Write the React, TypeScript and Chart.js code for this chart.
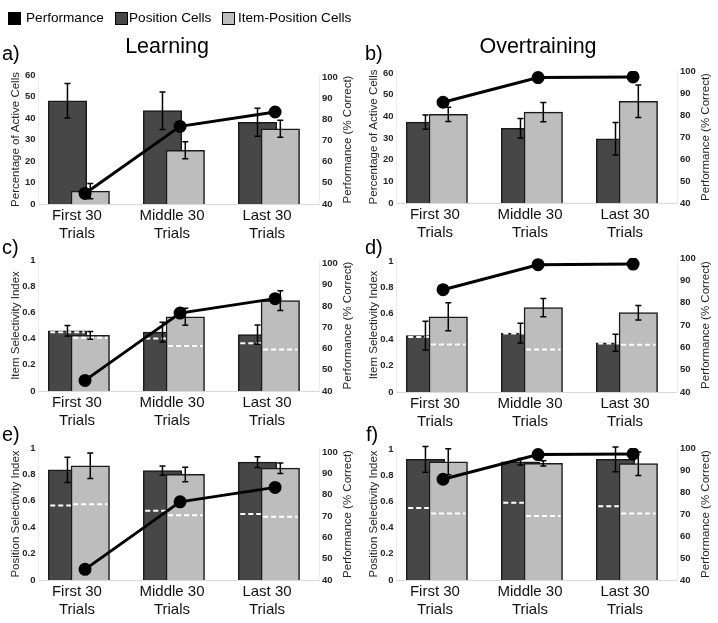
import React, { useEffect, useRef } from "react";
import { Chart, registerables } from "chart.js";

Chart.register(...registerables);

const FONT = '"Liberation Sans", Arial, Helvetica, sans-serif';
Chart.defaults.font.family = FONT;

// ---------- DATA ----------
const categories = [
  ["First 30", "Trials"],
  ["Middle 30", "Trials"],
  ["Last 30", "Trials"],
];
const seriesNames = ["Performance", "Position Cells", "Item-Position Cells"];

const learningPerformance = [45, 76.7, 83.5];
const overtrainingPerformance = [85.8, 97, 97.3];

// a) Learning – percentage of active cells
const learnActivePos = [48, 43.4, 38];
const learnActivePosErr = [8, 8.7, 6.5];
const learnActiveItem = [6, 25, 35];
const learnActiveItemErr = [3.5, 4, 4];

// b) Overtraining – percentage of active cells
const overActivePos = [37.4, 34.5, 29.7];
const overActivePosErr = [3.3, 4.5, 7.5];
const overActiveItem = [41, 42, 47];
const overActiveItemErr = [3.3, 4.5, 7.5];

// c) Learning – item selectivity index
const learnItemSelPos = [0.46, 0.45, 0.43];
const learnItemSelPosErr = [0.04, 0.075, 0.073];
const learnItemSelPosChance = [0.449, 0.4, 0.365];
const learnItemSelItem = [0.425, 0.566, 0.69];
const learnItemSelItemErr = [0.03, 0.065, 0.075];
const learnItemSelItemChance = [0.406, 0.343, 0.317];

// d) Overtraining – item selectivity index
const overItemSelPos = [0.43, 0.449, 0.375];
const overItemSelPosErr = [0.11, 0.075, 0.065];
const overItemSelPosChance = [0.42, 0.446, 0.37];
const overItemSelItem = [0.574, 0.643, 0.605];
const overItemSelItemErr = [0.107, 0.07, 0.055];
const overItemSelItemChance = [0.362, 0.324, 0.36];

// e) Learning – position selectivity index
const learnPosSelPos = [0.834, 0.829, 0.893];
const learnPosSelPosErr = [0.095, 0.035, 0.04];
const learnPosSelPosChance = [0.564, 0.525, 0.5];
const learnPosSelItem = [0.865, 0.8, 0.847];
const learnPosSelItemErr = [0.097, 0.055, 0.04];
const learnPosSelItemChance = [0.574, 0.49, 0.48];

// f) Overtraining – position selectivity index
const overPosSelPos = [0.923, 0.905, 0.923];
const overPosSelPosErr = [0.098, 0.025, 0.095];
const overPosSelPosChance = [0.551, 0.592, 0.564];
const overPosSelItem = [0.905, 0.893, 0.89];
const overPosSelItemErr = [0.1, 0.02, 0.09];
const overPosSelItemChance = [0.508, 0.49, 0.508];

// ---------- STYLE / LAYOUT ----------
const DARK = "#474747";
const LIGHT = "#bdbdbd";
const EDGE = "#1a1a1a";
const TEXT = "#262626";
const CANVAS_W = 358;
const TOP_PAD = 14;
const X_AXIS_H = 38;
const LEFT_AXIS_W = 38;
const RIGHT_AXIS_W = 39;
const X_MIN = -0.41;
const X_MAX = 2.547;
const DARK_X = -0.1;
const LIGHT_X = 0.14;
const LINE_X = 0.085;
const BAR_W = 38.5;

type Panel = {
  id: string;
  left: number;
  chartTop: number;
  chartBottom: number;
  yTitle: string;
  yMax: number;
  yStep: number;
  y1Max: number;
  perf: number[];
  pos: number[];
  posErr: number[];
  item: number[];
  itemErr: number[];
  posChance?: number[];
  itemChance?: number[];
};

const panels: Panel[] = [
  { id: "a", left: 0, chartTop: 75, chartBottom: 204, yTitle: "Percentage of Active Cells", yMax: 60, yStep: 10, y1Max: 101,
    perf: learningPerformance, pos: learnActivePos, posErr: learnActivePosErr, item: learnActiveItem, itemErr: learnActiveItemErr },
  { id: "b", left: 358, chartTop: 71, chartBottom: 203, yTitle: "Percentage of Active Cells", yMax: 61, yStep: 10, y1Max: 100,
    perf: overtrainingPerformance, pos: overActivePos, posErr: overActivePosErr, item: overActiveItem, itemErr: overActiveItemErr },
  { id: "c", left: 0, chartTop: 260, chartBottom: 391, yTitle: "Item Selectivity Index", yMax: 1, yStep: 0.2, y1Max: 101.7,
    perf: learningPerformance, pos: learnItemSelPos, posErr: learnItemSelPosErr, item: learnItemSelItem, itemErr: learnItemSelItemErr,
    posChance: learnItemSelPosChance, itemChance: learnItemSelItemChance },
  { id: "d", left: 358, chartTop: 258, chartBottom: 391.5, yTitle: "Item Selectivity Index", yMax: 1.022, yStep: 0.2, y1Max: 100,
    perf: overtrainingPerformance, pos: overItemSelPos, posErr: overItemSelPosErr, item: overItemSelItem, itemErr: overItemSelItemErr,
    posChance: overItemSelPosChance, itemChance: overItemSelItemChance },
  { id: "e", left: 0, chartTop: 448, chartBottom: 579.5, yTitle: "Position Selectivity Index", yMax: 1, yStep: 0.2, y1Max: 102,
    perf: learningPerformance, pos: learnPosSelPos, posErr: learnPosSelPosErr, item: learnPosSelItem, itemErr: learnPosSelItemErr,
    posChance: learnPosSelPosChance, itemChance: learnPosSelItemChance },
  { id: "f", left: 358, chartTop: 448, chartBottom: 580, yTitle: "Position Selectivity Index", yMax: 1.01, yStep: 0.2, y1Max: 100,
    perf: overtrainingPerformance, pos: overPosSelPos, posErr: overPosSelPosErr, item: overPosSelItem, itemErr: overPosSelItemErr,
    posChance: overPosSelPosChance, itemChance: overPosSelItemChance },
];

const overlayPlugin = {
  id: "overlays",
  afterDatasetDraw(chart: any, args: any) {
    const ds: any = chart.data.datasets[args.index];
    if (!ds.errorBars) return;
    const meta = args.meta;
    const yScale = chart.scales[meta.yAxisID];
    const ctx = chart.ctx;
    ctx.save();
    meta.data.forEach((el: any, i: number) => {
      const x = el.x;
      const w = el.width;
      if (ds.chance) {
        const yc = yScale.getPixelForValue(ds.chance[i]);
        ctx.strokeStyle = "#ffffff";
        ctx.lineWidth = 2;
        ctx.setLineDash([5, 3]);
        ctx.beginPath();
        ctx.moveTo(x - w / 2 + 2, yc);
        ctx.lineTo(x + w / 2 - 2, yc);
        ctx.stroke();
        ctx.setLineDash([]);
      }
      const v = ds.data[i].y;
      const e = ds.errorBars[i];
      const yTop = yScale.getPixelForValue(v + e);
      const yBot = yScale.getPixelForValue(v - e);
      ctx.strokeStyle = "#000";
      ctx.lineWidth = 1.5;
      ctx.beginPath();
      ctx.moveTo(x, yTop);
      ctx.lineTo(x, yBot);
      ctx.moveTo(x - 3, yTop);
      ctx.lineTo(x + 3, yTop);
      ctx.moveTo(x - 3, yBot);
      ctx.lineTo(x + 3, yBot);
      ctx.stroke();
    });
    ctx.restore();
  },
  afterDraw(chart: any) {
    const ctx = chart.ctx;
    const area = chart.chartArea;
    ctx.save();
    ctx.translate(chart.width - 10.5, (area.top + area.bottom) / 2);
    ctx.rotate(-Math.PI / 2);
    ctx.font = `11.5px ${FONT}`;
    ctx.fillStyle = TEXT;
    ctx.textAlign = "center";
    ctx.textBaseline = "middle";
    ctx.fillText("Performance (% Correct)", 0, 0);
    ctx.restore();
  },
};

const fmtTick = (v: any) => String(Number(Number(v).toFixed(2)));

function PanelChart({ p }: { p: Panel }) {
  const ref = useRef<HTMLCanvasElement>(null);
  const top = p.chartTop - TOP_PAD;
  const height = Math.round(p.chartBottom - p.chartTop + TOP_PAD + X_AXIS_H);

  useEffect(() => {
    const tickFont = { family: FONT, size: 9.5, weight: "bold" as const };
    const chart = new Chart(ref.current as HTMLCanvasElement, {
      type: "bar",
      data: {
        datasets: [
          {
            type: "line",
            label: seriesNames[0],
            data: p.perf.map((v, i) => ({ x: i + LINE_X, y: v })),
            xAxisID: "x",
            yAxisID: "y1",
            borderColor: "#000",
            backgroundColor: "#000",
            borderWidth: 3,
            pointRadius: 5,
            pointHoverRadius: 5,
            pointBackgroundColor: "#000",
            pointBorderColor: "#000",
            tension: 0,
            order: 1,
          } as any,
          {
            type: "bar",
            label: seriesNames[1],
            data: p.pos.map((v, i) => ({ x: i + DARK_X, y: v })),
            xAxisID: "x",
            yAxisID: "y",
            backgroundColor: DARK,
            borderColor: EDGE,
            borderWidth: 1.5,
            barThickness: BAR_W,
            grouped: false,
            order: 3,
            errorBars: p.posErr,
            chance: p.posChance,
          } as any,
          {
            type: "bar",
            label: seriesNames[2],
            data: p.item.map((v, i) => ({ x: i + LIGHT_X, y: v })),
            xAxisID: "x",
            yAxisID: "y",
            backgroundColor: LIGHT,
            borderColor: EDGE,
            borderWidth: 1.5,
            barThickness: BAR_W,
            grouped: false,
            order: 2,
            errorBars: p.itemErr,
            chance: p.itemChance,
          } as any,
        ],
      },
      options: {
        responsive: false,
        maintainAspectRatio: false,
        animation: false,
        events: [],
        layout: { padding: { top: TOP_PAD, left: 0, right: 0, bottom: 0 } },
        plugins: { legend: { display: false }, tooltip: { enabled: false } },
        scales: {
          x: {
            type: "linear",
            min: X_MIN,
            max: X_MAX,
            offset: false,
            grid: { display: false, drawTicks: false },
            border: { display: true, color: "#d9d9d9", width: 1 },
            afterBuildTicks: (s: any) => {
              s.ticks = categories.map((_, i) => ({ value: i }));
            },
            afterFit: (s: any) => {
              s.height = X_AXIS_H;
            },
            ticks: {
              autoSkip: false,
              maxRotation: 0,
              padding: 2.5,
              color: "#111",
              font: { family: FONT, size: 15, lineHeight: "18px" },
              callback: (v: any) => (categories[v as number] ?? "") as any,
            },
          },
          y: {
            type: "linear",
            position: "left",
            min: 0,
            max: p.yMax,
            grid: { display: false, drawTicks: false },
            border: { display: true, color: "#ececec", width: 1 },
            afterFit: (s: any) => {
              s.width = LEFT_AXIS_W;
            },
            ticks: { stepSize: p.yStep, includeBounds: false, padding: 2.5, color: TEXT, font: tickFont, callback: fmtTick },
            title: {
              display: true,
              text: p.yTitle,
              color: TEXT,
              font: { family: FONT, size: 11.5 },
              padding: { top: 8.6, bottom: 0 },
            },
          },
          y1: {
            type: "linear",
            position: "right",
            min: 40,
            max: p.y1Max,
            grid: { display: false, drawTicks: false },
            border: { display: true, color: "#ececec", width: 1 },
            afterFit: (s: any) => {
              s.width = RIGHT_AXIS_W;
            },
            ticks: { stepSize: 10, includeBounds: false, padding: 3, color: TEXT, font: tickFont, callback: fmtTick },
          },
        },
      } as any,
      plugins: [overlayPlugin as any],
    });
    return () => chart.destroy();
  }, [p]);

  return (
    <canvas
      ref={ref}
      width={CANVAS_W}
      height={height}
      style={{ position: "absolute", left: p.left, top, width: CANVAS_W, height }}
    />
  );
}

const legendItems = [
  { name: seriesNames[0], color: "#000000", sq: 8, tx: 26 },
  { name: seriesNames[1], color: DARK, sq: 115, tx: 129 },
  { name: seriesNames[2], color: LIGHT, sq: 222, tx: 238 },
];

const sectionTitles = [
  { text: "Learning", cx: 167 },
  { text: "Overtraining", cx: 538 },
];

const panelLabels = [
  { text: "a)", x: 2, baseline: 60 },
  { text: "b)", x: 365, baseline: 60 },
  { text: "c)", x: 2, baseline: 254 },
  { text: "d)", x: 365, baseline: 254 },
  { text: "e)", x: 2, baseline: 441 },
  { text: "f)", x: 366, baseline: 441 },
];

export default function App() {
  return (
    <div
      style={{
        position: "fixed",
        left: 0,
        top: 0,
        width: 718,
        height: 623,
        background: "#fff",
        overflow: "hidden",
        fontFamily: FONT,
        color: "#000",
      }}
    >
      {panels.map((p) => (
        <PanelChart key={p.id} p={p} />
      ))}
      {legendItems.map((it) => (
        <React.Fragment key={it.name}>
          <div
            style={{
              position: "absolute",
              left: it.sq,
              top: 12,
              width: 11,
              height: 11,
              background: it.color,
              border: "1px solid #000",
            }}
          />
          <div
            style={{
              position: "absolute",
              left: it.tx,
              top: 9,
              fontSize: 13.6,
              lineHeight: "18px",
              whiteSpace: "nowrap",
            }}
          >
            {it.name}
          </div>
        </React.Fragment>
      ))}
      {sectionTitles.map((t) => (
        <div
          key={t.text}
          style={{
            position: "absolute",
            left: t.cx - 100,
            width: 200,
            top: 33,
            textAlign: "center",
            fontSize: 21.5,
            lineHeight: "26px",
            whiteSpace: "nowrap",
          }}
        >
          {t.text}
        </div>
      ))}
      {panelLabels.map((l) => (
        <div
          key={l.text}
          style={{
            position: "absolute",
            left: l.x,
            top: l.baseline - 18,
            fontSize: 20,
            lineHeight: "22px",
            whiteSpace: "nowrap",
          }}
        >
          {l.text}
        </div>
      ))}
    </div>
  );
}
